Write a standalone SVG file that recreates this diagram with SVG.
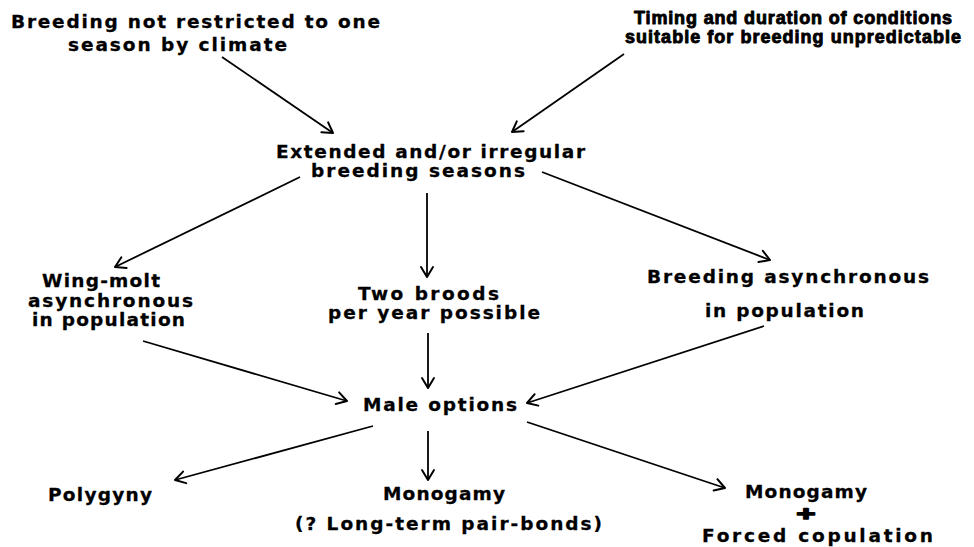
<svg xmlns="http://www.w3.org/2000/svg" width="974" height="547" viewBox="0 0 974 547">
<defs>
<marker id="arr" markerUnits="userSpaceOnUse" markerWidth="16" markerHeight="16" viewBox="-12 -8 14 16" refX="0" refY="0" orient="auto">
<path d="M-10,-6 L0,0 L-10,6" fill="none" stroke="#000" stroke-width="2" stroke-linecap="round" stroke-linejoin="round"/>
</marker>
<style>
text{font-family:"DejaVu Sans","Liberation Sans",sans-serif;font-weight:bold;font-size:18.5px;fill:#000;stroke:#000;stroke-width:0.3px;stroke-linejoin:round}
text.l{font-family:"Liberation Sans",Arial,sans-serif;font-size:18px;stroke-width:0.9px}
text.p{stroke-width:1.4px}
.c line{stroke:#000;stroke-width:1.8;marker-end:url(#arr)}
</style>
</defs>
<rect width="974" height="547" fill="#fff"/>
<g id="n_climate">
<text x="11" y="28" textLength="369" lengthAdjust="spacing">Breeding not restricted to one</text>
<text x="68" y="51" textLength="219" lengthAdjust="spacing">season by climate</text>
</g>
<g id="n_timing">
<text class="l" x="634" y="24" textLength="318" lengthAdjust="spacing">Timing and duration of conditions</text>
<text class="l" x="625" y="43" textLength="336" lengthAdjust="spacing">suitable for breeding unpredictable</text>
</g>
<g id="n_extended">
<text x="276" y="158" textLength="309" lengthAdjust="spacing">Extended and/or irregular</text>
<text x="311" y="177" textLength="214" lengthAdjust="spacing">breeding seasons</text>
</g>
<g id="n_wingmolt">
<text x="42" y="287" textLength="118" lengthAdjust="spacing">Wing-molt</text>
<text x="28" y="306.5" textLength="165" lengthAdjust="spacing">asynchronous</text>
<text x="32" y="326" textLength="153" lengthAdjust="spacing">in population</text>
</g>
<g id="n_twobroods">
<text x="358" y="299.5" textLength="141" lengthAdjust="spacing">Two broods</text>
<text x="328" y="319" textLength="212" lengthAdjust="spacing">per year possible</text>
</g>
<g id="n_breedasync">
<text x="647" y="283" textLength="282" lengthAdjust="spacing">Breeding asynchronous</text>
<text x="705" y="317" textLength="159" lengthAdjust="spacing">in population</text>
</g>
<g id="n_male">
<text x="363" y="411" textLength="154" lengthAdjust="spacing">Male options</text>
</g>
<g id="n_polygyny">
<text x="48" y="501" textLength="104" lengthAdjust="spacing">Polygyny</text>
</g>
<g id="n_monogamy">
<text x="383" y="500" textLength="122" lengthAdjust="spacing">Monogamy</text>
<text x="295" y="530" textLength="307" lengthAdjust="spacing">(? Long-term pair-bonds)</text>
</g>
<g id="n_forced">
<text x="745" y="498" textLength="122" lengthAdjust="spacing">Monogamy</text>
<text class="l p" transform="translate(806,521) scale(1.8,1.1)" x="0" y="0" text-anchor="middle">+</text>
<text x="702" y="542" textLength="231" lengthAdjust="spacing">Forced copulation</text>
</g>
<g id="connectors" class="c">
<line x1="222" y1="57" x2="333" y2="133"/>
<line x1="624" y1="54" x2="512" y2="132"/>
<line x1="300" y1="177" x2="115" y2="267"/>
<line x1="427" y1="193" x2="427" y2="277"/>
<line x1="542" y1="172" x2="770" y2="260"/>
<line x1="143" y1="341" x2="347" y2="401"/>
<line x1="428" y1="333" x2="428" y2="388"/>
<line x1="764" y1="326" x2="527" y2="403"/>
<line x1="373" y1="426" x2="175" y2="480"/>
<line x1="428" y1="431" x2="428" y2="480"/>
<line x1="527" y1="422" x2="725" y2="488"/>
</g>
</svg>
